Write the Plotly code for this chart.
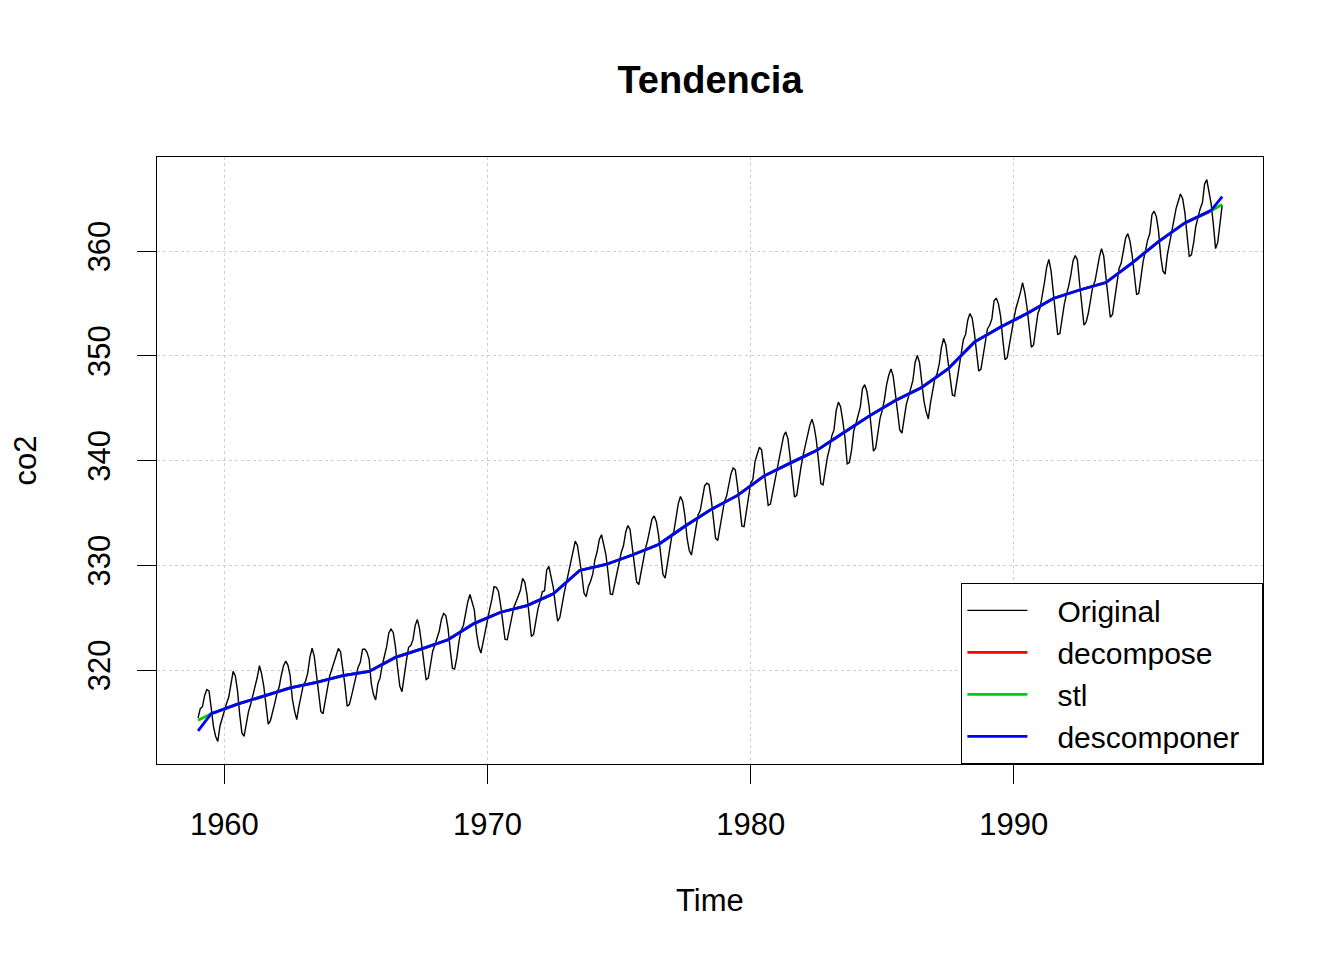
import plotly.graph_objects as go

# Monthly CO2 (ppm), 1959-1997
start_year = 1959
co2 = [
    315.42, 316.31, 316.50, 317.56, 318.13, 318.00, 316.39, 314.65, 313.68, 313.18, 314.66, 315.43,
    316.27, 316.81, 317.42, 318.87, 319.87, 319.43, 318.01, 315.74, 314.00, 313.68, 314.84, 316.03,
    316.73, 317.54, 318.38, 319.31, 320.42, 319.61, 318.42, 316.63, 314.83, 315.16, 315.94, 316.85,
    317.78, 318.40, 319.53, 320.42, 320.85, 320.45, 319.45, 317.25, 316.11, 315.27, 316.53, 317.53,
    318.58, 318.92, 319.70, 321.22, 322.08, 321.31, 319.58, 317.61, 316.05, 315.83, 316.91, 318.20,
    319.41, 320.07, 320.74, 321.40, 322.06, 321.73, 320.27, 318.54, 316.54, 316.71, 317.53, 318.55,
    319.27, 320.28, 320.73, 321.97, 322.00, 321.71, 321.05, 318.71, 317.66, 317.14, 318.70, 319.25,
    320.46, 321.43, 322.23, 323.54, 323.91, 323.59, 322.24, 320.20, 318.48, 317.94, 319.63, 320.87,
    322.17, 322.34, 322.88, 324.25, 324.83, 323.93, 322.38, 320.76, 319.10, 319.24, 320.56, 321.80,
    322.40, 322.99, 323.73, 324.86, 325.40, 325.20, 323.98, 321.95, 320.18, 320.09, 321.16, 322.74,
    323.83, 324.26, 325.47, 326.50, 327.21, 326.54, 325.72, 323.50, 322.22, 321.62, 322.69, 323.95,
    324.89, 325.82, 326.77, 327.97, 327.91, 327.50, 326.18, 324.53, 322.93, 322.90, 323.85, 324.96,
    326.01, 326.51, 327.01, 327.62, 328.76, 328.40, 327.20, 325.27, 323.20, 323.40, 324.63, 325.85,
    326.60, 327.47, 327.58, 329.56, 329.90, 328.92, 327.88, 326.16, 324.68, 325.04, 326.34, 327.39,
    328.37, 329.40, 330.14, 331.33, 332.31, 331.90, 330.70, 329.15, 327.35, 327.02, 327.99, 328.48,
    329.18, 330.55, 331.32, 332.48, 332.92, 332.08, 331.01, 329.23, 327.27, 327.21, 328.29, 329.41,
    330.23, 331.25, 331.87, 333.14, 333.80, 333.43, 331.73, 329.90, 328.40, 328.17, 329.32, 330.59,
    331.58, 332.39, 333.33, 334.41, 334.71, 334.17, 332.89, 330.77, 329.14, 328.78, 330.14, 331.52,
    332.75, 333.24, 334.53, 335.90, 336.57, 336.10, 334.76, 332.59, 331.42, 330.98, 332.24, 333.68,
    334.80, 335.22, 336.47, 337.59, 337.84, 337.72, 336.37, 334.51, 332.60, 332.38, 333.75, 334.78,
    336.05, 336.59, 337.79, 338.71, 339.30, 339.12, 337.56, 335.92, 333.75, 333.70, 335.12, 336.56,
    337.84, 338.19, 339.91, 340.60, 341.29, 341.00, 339.39, 337.43, 335.72, 335.84, 336.93, 338.04,
    339.06, 340.30, 341.21, 342.33, 342.74, 342.08, 340.32, 338.26, 336.52, 336.68, 338.19, 339.44,
    340.57, 341.44, 342.53, 343.39, 343.96, 343.18, 341.88, 339.65, 337.81, 337.69, 339.09, 340.32,
    341.20, 342.35, 342.93, 344.77, 345.58, 345.14, 343.81, 342.21, 339.69, 339.82, 340.98, 342.82,
    343.52, 344.33, 345.11, 346.88, 347.25, 346.62, 345.22, 343.11, 340.90, 341.18, 342.80, 344.04,
    344.79, 345.82, 347.25, 348.17, 348.74, 348.07, 346.38, 344.51, 342.92, 342.62, 344.06, 345.38,
    346.11, 346.78, 347.68, 349.37, 350.03, 349.37, 347.76, 345.73, 344.68, 343.99, 345.48, 346.72,
    347.84, 348.29, 349.23, 350.80, 351.66, 351.07, 349.33, 347.92, 346.27, 346.18, 347.64, 348.78,
    350.25, 351.54, 352.05, 353.41, 354.04, 353.62, 352.22, 350.27, 348.55, 348.72, 349.91, 351.18,
    352.60, 352.92, 353.53, 355.26, 355.52, 354.97, 353.75, 351.52, 349.64, 349.83, 351.14, 352.37,
    353.50, 354.55, 355.23, 356.04, 357.00, 356.07, 354.67, 352.76, 350.82, 351.04, 352.69, 354.07,
    354.59, 355.63, 357.03, 358.48, 359.22, 358.12, 356.06, 353.92, 352.05, 352.11, 353.64, 354.89,
    355.88, 356.63, 357.72, 359.07, 359.58, 359.17, 356.94, 354.92, 352.94, 353.23, 354.09, 355.33,
    356.63, 357.10, 358.32, 359.41, 360.23, 359.55, 357.53, 355.48, 353.67, 353.95, 355.30, 356.78,
    358.34, 358.89, 359.95, 361.25, 361.67, 360.94, 359.55, 357.49, 355.84, 356.00, 357.59, 359.05,
    359.98, 361.03, 361.66, 363.48, 363.82, 363.30, 361.94, 359.50, 358.11, 357.80, 359.61, 360.74,
    362.09, 363.29, 364.06, 364.76, 365.45, 365.01, 363.70, 361.54, 359.51, 359.65, 360.80, 362.38,
    363.23, 364.06, 364.61, 366.40, 366.84, 365.68, 364.52, 362.57, 360.24, 360.83, 362.49, 364.34,
]
co2_time = [start_year + i / 12 for i in range(len(co2))]

# Trend estimates read at mid-year (ppm)
mid_years = [1959.5, 1960.5, 1961.5, 1962.5, 1963.5, 1964.5, 1965.5, 1966.5, 1967.5, 1968.5,
             1969.5, 1970.5, 1971.5, 1972.5, 1973.5, 1974.5, 1975.5, 1976.5, 1977.5, 1978.5,
             1979.5, 1980.5, 1981.5, 1982.5, 1983.5, 1984.5, 1985.5, 1986.5, 1987.5, 1988.5,
             1989.5, 1990.5, 1991.5, 1992.5, 1993.5, 1994.5, 1995.5, 1996.5]
mid_trend = [315.83, 316.75, 317.49, 318.30, 318.83, 319.46, 319.87, 321.21, 322.02, 322.89,
             324.46, 325.52, 326.16, 327.29, 329.51, 330.08, 330.99, 331.99, 333.73, 335.34,
             336.68, 338.52, 339.76, 340.96, 342.61, 344.25, 345.73, 346.98, 348.75, 351.31,
             352.75, 354.04, 355.48, 356.29, 357.00, 358.88, 360.91, 362.69]

decompose_x = mid_years + [1997.42]
decompose_y = mid_trend + [363.75]

stl_x = [1959.0] + mid_years + [1997.5, 1997.92]
stl_y = [315.2] + mid_trend + [363.85, 364.45]

descomponer_x = [1959.0] + mid_years + [1997.5, 1997.92]
descomponer_y = [314.2] + mid_trend + [363.9, 365.2]

x_ticks = [1960, 1970, 1980, 1990]
y_ticks = [320, 330, 340, 350, 360]
series_names = ["Original", "decompose", "stl", "descomponer"]

FONT = "Liberation Sans, Arial, sans-serif"
NB = "\u00a0"

def legend_label(name, trail=0):
    return NB * 3 + name + NB * trail

fig = go.Figure()
fig.add_trace(go.Scatter(x=co2_time, y=co2, mode="lines", name=legend_label(series_names[0]),
                         line=dict(color="black", width=1.4)))
fig.add_trace(go.Scatter(x=decompose_x, y=decompose_y, mode="lines", name=legend_label(series_names[1]),
                         line=dict(color="#FF0000", width=2.8)))
fig.add_trace(go.Scatter(x=stl_x, y=stl_y, mode="lines", name=legend_label(series_names[2]),
                         line=dict(color="#00CD00", width=2.8)))
fig.add_trace(go.Scatter(x=descomponer_x, y=descomponer_y, mode="lines",
                         name=legend_label(series_names[3], 2),
                         line=dict(color="#0000FF", width=2.8)))

axis_common = dict(
    showline=True, mirror=True, linecolor="black", linewidth=1.4,
    ticks="outside", ticklen=19, tickwidth=1.4, tickcolor="black",
    showgrid=True, gridcolor="#CFCFCF", griddash="dot", gridwidth=1.4,
    zeroline=False, tickfont=dict(family=FONT, size=31, color="black"),
)

fig.update_layout(
    width=1344, height=960,
    paper_bgcolor="white", plot_bgcolor="white",
    margin=dict(l=149, r=89, t=149, b=204),
    title=dict(text="Tendencia", xref="paper", x=0.5, xanchor="center",
               yref="container", y=1 - 72 / 960, yanchor="middle",
               font=dict(family=FONT, size=38, color="black", weight="bold")),
    xaxis=dict(range=[1957.44, 1999.47], tickmode="array", tickvals=x_ticks,
               ticktext=[str(v) for v in x_ticks], ticklabelstandoff=14, **axis_common),
    yaxis=dict(range=[311.03, 368.99], tickmode="array", tickvals=y_ticks,
               ticktext=[str(v) for v in y_ticks], tickangle=-90, ticklabelstandoff=14,
               **axis_common),
    showlegend=True,
    legend=dict(x=1, y=0, xanchor="right", yanchor="bottom",
                bgcolor="white", bordercolor="black", borderwidth=1.4,
                font=dict(family=FONT, size=30, color="black"),
                itemwidth=60, tracegroupgap=0),
    annotations=[
        dict(text="co2", xref="paper", yref="paper", x=0, y=0.5, xshift=-132,
             textangle=-90, showarrow=False, xanchor="center", yanchor="middle",
             font=dict(family=FONT, size=31, color="black")),
        dict(text="Time", xref="paper", yref="paper", x=0.5, y=0, yshift=-136,
             showarrow=False, xanchor="center", yanchor="middle",
             font=dict(family=FONT, size=31, color="black")),
    ],
)

fig.write_html("out.html")
